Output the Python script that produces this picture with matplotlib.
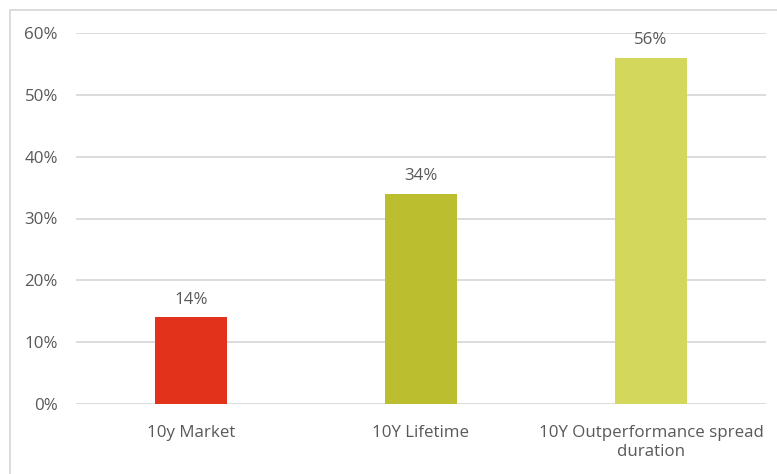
import matplotlib.pyplot as plt
from matplotlib.lines import Line2D
from matplotlib.ticker import FuncFormatter

categories = ["10y Market", "10Y Lifetime", "10Y Outperformance spread\nduration"]
values = [14, 34, 56]
colors = ["#E2321B", "#BBBF2F", "#D3D75C"]
yticks = [0, 10, 20, 30, 40, 50, 60]

plt.rcParams['font.family'] = ['Open Sans', 'DejaVu Sans']
text_col = "#595959"
grid_col = "#D9D9D9"

fig = plt.figure(figsize=(7.77, 4.74), dpi=100)
ax = fig.add_axes([76 / 777, 70 / 474, 690 / 777, 371 / 474])

x = range(len(categories))
bars = ax.bar(x, values, width=0.313, color=colors, zorder=3)

for b, v in zip(bars, values):
    ax.annotate("%d%%" % v, (b.get_x() + b.get_width() / 2, v),
                xytext=(0, 7), textcoords="offset points",
                ha="center", va="bottom", fontsize=12.2, color=text_col)

ax.set_xlim(-0.5, len(categories) - 0.5)
ax.set_ylim(0, 60)
ax.set_yticks(yticks)
ax.yaxis.set_major_formatter(FuncFormatter(lambda v, p: "%d%%" % v))
ax.set_xticks(list(x))
ax.set_xticklabels(categories, linespacing=1.3)
ax.tick_params(axis="both", length=0, labelsize=12.2, labelcolor=text_col)
ax.tick_params(axis="y", pad=13)
ax.tick_params(axis="x", pad=15)
ax.yaxis.grid(True, color=grid_col, linewidth=1.3, zorder=0)
for s in ax.spines.values():
    s.set_visible(False)

# outer chart border (left and top visible)
fig.add_artist(Line2D([9.5 / 777, 9.5 / 777], [0, 1 - 9.5 / 474], transform=fig.transFigure,
                      color=grid_col, linewidth=1.3))
fig.add_artist(Line2D([9.5 / 777, 1], [1 - 9.5 / 474, 1 - 9.5 / 474], transform=fig.transFigure,
                      color=grid_col, linewidth=1.3))

fig.savefig("out.png", dpi=100)
